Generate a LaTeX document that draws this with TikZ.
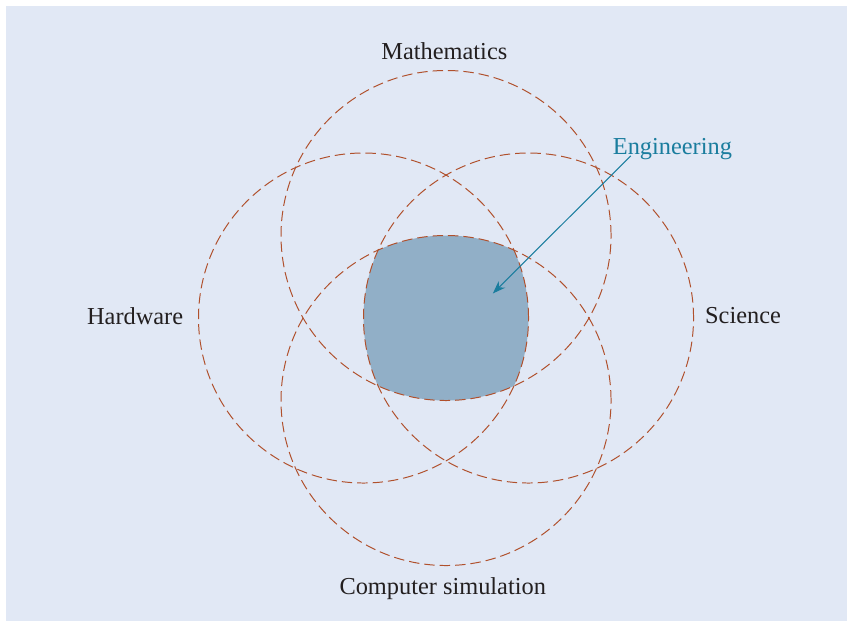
\documentclass[tikz,border=0pt]{standalone}
\usepackage{fontspec}
\setmainfont{Liberation Serif}
\usepackage{tikz}
\usetikzlibrary{arrows, arrows.meta, positioning}
\tikzset{>={Stealth[length=11pt,width=8pt]}}
\definecolor{bgblue}{HTML}{E1E8F5}
\definecolor{rust}{HTML}{B0502C}
\definecolor{core}{HTML}{91AFC7}
\definecolor{teal}{HTML}{1A7D9E}
\definecolor{ink}{HTML}{231F20}

\begin{document}
\begin{tikzpicture}[>={Stealth[length=11pt,width=8pt]},
        field/.style={draw=rust, line width=0.85pt, dash pattern=on 9pt off 4.3pt},
        lbl/.style={font=\fontsize{21}{25}\selectfont, text=ink, inner sep=0pt, anchor=base}]
        \useasboundingbox (-13.515,-9.18) rectangle (12.15,9.636);
        \fill [bgblue] (-13.33,-9.18) rectangle (12.15,9.455);
        \coordinate (M) at (0,2.5);
        \coordinate (C) at (0,-2.5);
        \coordinate (H) at (-2.5,0);
        \coordinate (S) at (2.5,0);
        % overlap of all four fields
        \begin{scope}
        \clip (M) circle (5);
        \clip (C) circle (5);
        \clip (H) circle (5);
        \fill [core] (S) circle (5);
        \end{scope}
        \draw [field] (M) circle (5);
        \draw [field] (C) circle (5);
        \draw [field] (H) circle (5);
        \draw [field] (S) circle (5);
        \node (math) at (-0.05,7.84)[lbl]{Mathematics};
        \node (hw) at (-9.42,-0.19)[lbl]{Hardware};
        \node (sci) at (9.0,-0.16)[lbl]{Science};
        \node (sim) at (-0.1,-8.37)[lbl]{Computer simulation};
        \node (eng) at (6.86,4.96)[lbl,text=teal]{Engineering};
        \coordinate (tip) at (1.42,0.745);
        \draw [->, teal, line width=0.9pt] ([xshift=0.55cm,yshift=0.12cm]eng.south west)--(tip);
        \end{tikzpicture}
\end{document}
